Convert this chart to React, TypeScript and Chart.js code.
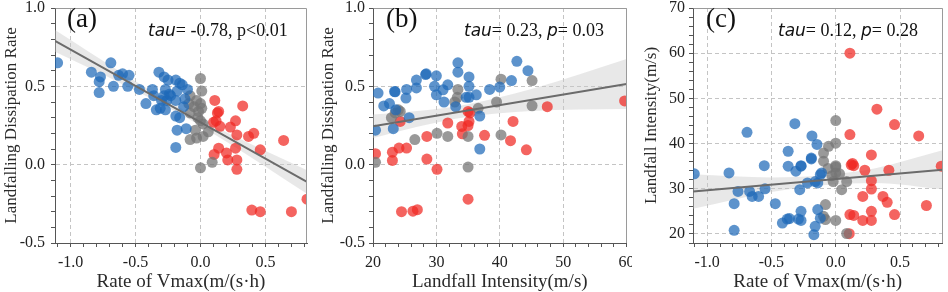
import React, { useEffect, useRef } from 'react';
import { Chart, registerables } from 'chart.js';
Chart.register(...registerables);

// ---------- Panel (a): Rate of Vmax vs Landfalling Dissipation Rate ----------
const aBlue = [
  [-1.10, 0.65], [-0.84, 0.59], [-0.78, 0.46], [-0.77, 0.56], [-0.78, 0.53], [-0.69, 0.65],
  [-0.67, 0.50], [-0.63, 0.57], [-0.60, 0.58], [-0.55, 0.57], [-0.56, 0.50], [-0.47, 0.48],
  [-0.42, 0.39], [-0.37, 0.48], [-0.36, 0.44], [-0.34, 0.35], [-0.32, 0.59], [-0.28, 0.56],
  [-0.30, 0.41], [-0.27, 0.48], [-0.27, 0.35], [-0.24, 0.45], [-0.28, 0.44], [-0.25, 0.54],
  [-0.19, 0.54], [-0.16, 0.52], [-0.18, 0.47], [-0.23, 0.44], [-0.26, 0.41], [-0.19, 0.41],
  [-0.10, 0.48], [-0.19, 0.31], [-0.16, 0.30], [-0.18, 0.22], [-0.11, 0.23], [-0.19, 0.11],
  [-0.31, 0.36], [-0.14, 0.51], [-0.13, 0.37], [-0.12, 0.42],
];
const aGray = [
  [0.00, 0.55], [0.01, 0.47], [-0.08, 0.44], [-0.09, 0.39], [-0.03, 0.41], [0.00, 0.39],
  [-0.08, 0.33], [-0.015, 0.34], [0.00, 0.28], [0.02, 0.26], [-0.08, 0.16], [-0.03, 0.17],
  [0.02, 0.18], [0.06, 0.21], [0.00, -0.02], [0.09, 0.015], [-0.05, 0.37], [-0.04, 0.22],
  [0.01, 0.36], [-0.02, 0.30],
];
const aRed = [
  [0.11, 0.41], [0.14, 0.34], [0.13, 0.33], [0.12, 0.28], [0.15, 0.245], [0.10, 0.27],
  [0.325, 0.375], [0.27, 0.28], [0.23, 0.24], [0.28, 0.19], [0.37, 0.18], [0.41, 0.20],
  [0.46, 0.095], [0.64, 0.155], [0.14, 0.105], [0.105, 0.065], [0.20, 0.075], [0.21, 0.03],
  [0.27, 0.105], [0.28, 0.03], [0.28, -0.03], [0.395, -0.29], [0.46, -0.30], [0.70, -0.30],
  [0.82, -0.22],
];
const aFitX = [-1.12, 0.82];
const aFitY = [0.79, -0.11];
const aBandX = [-1.12, -0.6, -0.2, 0.2, 0.82];
const aBandUpper = [0.86, 0.584, 0.383, 0.207, -0.035];
const aBandLower = [0.72, 0.514, 0.343, 0.147, -0.185];
const aXMajor = [-1.0, -0.5, 0.0, 0.5];
const aYMajor = [-0.5, 0.0, 0.5, 1.0];

// ---------- Panel (b): Landfall Intensity vs Landfalling Dissipation Rate ----------
const bBlue = [
  [20.8, 0.457], [20.4, 0.22], [21.7, 0.375], [22.6, 0.39], [23.4, 0.467], [23.6, 0.35],
  [23.2, 0.23], [25.3, 0.48], [25.2, 0.425], [25.7, 0.30], [26.85, 0.54], [26.85, 0.49],
  [28.4, 0.58], [30.0, 0.567], [29.7, 0.50], [30.0, 0.446], [31.05, 0.478], [31.2, 0.40],
  [31.8, 0.51], [33.4, 0.65], [33.4, 0.59], [33.05, 0.37], [35.15, 0.56], [35.15, 0.50],
  [35.15, 0.43], [34.7, 0.43], [36.3, 0.446], [36.85, 0.31], [36.85, 0.10], [38.4, 0.48],
  [40.0, 0.495], [41.85, 0.537], [42.7, 0.66], [44.45, 0.60], [28.3, 0.575], [23.5, 0.465],
];
const bGray = [
  [20.4, 0.015], [22.9, 0.30], [23.5, 0.33], [24.3, 0.34], [26.6, 0.16], [30.1, 0.20],
  [31.8, 0.18], [33.4, 0.48], [33.3, 0.43], [32.9, 0.40], [35.0, 0.18], [35.0, -0.015],
  [36.6, 0.36], [39.5, 0.40], [40.2, 0.546], [45.1, 0.537], [45.1, 0.376], [40.2, 0.19],
  [24.0, 0.35],
];
const bRed = [
  [20.4, 0.07], [23.06, 0.08], [23.06, 0.027], [24.1, 0.106], [25.3, 0.106], [24.3, 0.276],
  [28.5, 0.18], [28.5, 0.036], [30.1, -0.03], [31.8, 0.266], [34.0, 0.244], [34.1, 0.197],
  [35.15, 0.276], [35.0, 0.25], [35.0, 0.34], [37.6, 0.187], [24.5, -0.30], [26.3, -0.297],
  [27.0, -0.287], [35.0, -0.22], [47.5, 0.37], [42.1, 0.276], [41.7, 0.153], [44.2, 0.095],
  [59.7, 0.407], [35.3, 0.33],
];
const bFitX = [20, 60];
const bFitY = [0.245, 0.515];
const bBandX = [20, 27, 35, 45, 60];
const bBandUpper = [0.32, 0.342, 0.386, 0.483, 0.675];
const bBandLower = [0.17, 0.242, 0.306, 0.343, 0.355];
const bXMajor = [20, 30, 40, 50, 60];
const bYMajor = [-0.5, 0.0, 0.5, 1.0];

// ---------- Panel (c): Rate of Vmax vs Landfall Intensity ----------
const cBlue = [
  [-1.10, 33.3], [-0.83, 33.5], [-0.79, 26.7], [-0.79, 20.8], [-0.76, 29.4], [-0.69, 42.5],
  [-0.67, 29.4], [-0.65, 28.3], [-0.60, 28.3], [-0.556, 35.1], [-0.55, 30.0], [-0.47, 26.7],
  [-0.415, 22.4], [-0.377, 23.3], [-0.36, 23.4], [-0.37, 35.0], [-0.37, 38.3], [-0.318, 44.4],
  [-0.31, 33.9], [-0.27, 35.1], [-0.29, 23.3], [-0.27, 25.0], [-0.27, 23.0], [-0.28, 29.8],
  [-0.22, 31.3], [-0.19, 36.6], [-0.185, 41.7], [-0.16, 31.6], [-0.146, 39.8], [-0.16, 21.7],
  [-0.17, 19.85], [-0.14, 25.4], [-0.12, 33.1], [-0.12, 23.5], [-0.14, 31.3], [-0.27, 35.0],
  [-0.11, 33.5], [-0.19, 36.8],
];
const cGray = [
  [0.0, 45.1], [0.0, 40.1], [-0.056, 39.4], [-0.095, 37.9], [-0.095, 36.1], [0.0, 35.1],
  [0.0, 33.5], [-0.03, 32.9], [0.03, 33.3], [-0.02, 31.6], [0.085, 31.6], [0.046, 29.8],
  [-0.08, 26.5], [-0.095, 23.9], [-0.08, 23.2], [0.0, 23.0], [0.085, 20.1], [-0.06, 34.5],
  [0.0, 34.8],
];
const cRed = [
  [0.11, 60.0], [0.32, 47.6], [0.457, 44.2], [0.645, 41.7], [0.11, 42.0], [0.277, 37.5],
  [0.13, 35.6], [0.14, 35.1], [0.226, 34.1], [0.413, 34.1], [0.277, 31.8], [0.277, 29.95],
  [0.21, 28.3], [0.367, 28.3], [0.40, 27.0], [0.457, 24.3], [0.705, 26.3], [0.277, 25.0],
  [0.11, 24.3], [0.14, 24.1], [0.21, 23.0], [0.277, 23.0], [0.105, 20.07], [0.82, 35.0],
  [0.12, 35.3],
];
const cFitX = [-1.11, 0.83];
const cFitY = [29.4, 34.2];
const cBandX = [-1.11, -0.5, -0.1, 0.3, 0.83];
const cBandUpper = [33.2, 32.5, 33.0, 34.5, 38.5];
const cBandLower = [25.6, 29.3, 30.8, 31.3, 29.9];
const cXMajor = [-1.0, -0.5, 0.0, 0.5];
const cYMajor = [20, 30, 40, 50, 60, 70];

const SERIF = "'Liberation Serif', 'Times New Roman', serif";
const SANS = "'DejaVu Sans', Verdana, sans-serif";
const BLUE = 'rgba(30,105,185,0.72)';
const GRAY = 'rgba(118,118,118,0.74)';
const RED = 'rgba(240,40,35,0.72)';
const GRID = '#c4c4c4';

function steps(lo: number, hi: number, step: number): number[] {
  const out: number[] = [];
  const n = Math.round((hi - lo) / step);
  for (let i = 0; i <= n; i++) out.push(Math.round((lo + i * step) * 1000) / 1000);
  return out;
}

type Seg = { t: string; it?: boolean };

interface PanelProps {
  left: number;
  blue: number[][]; gray: number[][]; red: number[][];
  fitX: number[]; fitY: number[];
  bandX: number[]; bandUpper: number[]; bandLower: number[];
  xMin: number; xMax: number; yMin: number; yMax: number;
  xMinor: number[]; yMinor: number[]; xMajor: number[]; yMajor: number[];
  xDec: number; yDec: number;
  xTitle: string; yTitle: string;
  label: string; labelX: number; stat: Seg[]; statX: number;
  yWidth: number; yTitlePad: number; yTickPad: number; padRight: number;
}

const W = 316;
const H = 292;

function isIn(v: number, arr: number[]) {
  return arr.some((m) => Math.abs(m - v) < 1e-6);
}

function Panel(p: PanelProps) {
  const ref = useRef<HTMLCanvasElement>(null);
  useEffect(() => {
    const toXY = (arr: number[][]) => arr.map(([x, y]) => ({ x, y }));
    const pts = (arr: number[][], color: string) => ({
      data: toXY(arr),
      backgroundColor: color,
      borderWidth: 0,
      pointRadius: 5.5,
      pointHoverRadius: 5.5,
      showLine: false,
      order: 2,
      clip: 0,
    });
    const fmt = (major: number[], dec: number) => (v: any) => {
      const n = Number(v);
      if (!isIn(n, major)) return '';
      const r = Math.abs(n) < 1e-9 ? 0 : n;
      return r.toFixed(dec);
    };
    const annot = {
      id: 'annot',
      afterDatasetsDraw(chart: any) {
        const { ctx, chartArea: a } = chart;
        ctx.save();
        ctx.strokeStyle = '#9a9a9a';
        ctx.lineWidth = 1;
        ctx.beginPath();
        ctx.moveTo(Math.round(a.left) + 0.5, Math.round(a.top) + 0.5);
        ctx.lineTo(Math.round(a.right) - 0.5, Math.round(a.top) + 0.5);
        ctx.lineTo(Math.round(a.right) - 0.5, Math.round(a.bottom));
        ctx.stroke();
        ctx.restore();
      },
      afterDraw(chart: any) {
        const { ctx } = chart;
        ctx.save();
        ctx.fillStyle = '#111';
        ctx.textBaseline = 'alphabetic';
        ctx.textAlign = 'left';
        ctx.font = `27px ${SERIF}`;
        ctx.fillText(p.label, p.labelX, 27);
        let x = p.statX;
        for (const s of p.stat) {
          ctx.font = s.it ? `italic 17px ${SANS}` : `18px ${SERIF}`;
          ctx.fillText(s.t, x, 36);
          x += ctx.measureText(s.t).width;
        }
        ctx.restore();
      },
    };
    const chart = new Chart(ref.current as HTMLCanvasElement, {
      type: 'scatter',
      data: {
        datasets: [
          {
            data: p.bandX.map((x, i) => ({ x, y: p.bandUpper[i] })),
            showLine: true, borderWidth: 0, borderColor: 'rgba(0,0,0,0)', pointRadius: 0,
            cubicInterpolationMode: 'monotone', fill: false, order: 3,
          } as any,
          {
            data: p.bandX.map((x, i) => ({ x, y: p.bandLower[i] })),
            showLine: true, borderWidth: 0, borderColor: 'rgba(0,0,0,0)', pointRadius: 0,
            cubicInterpolationMode: 'monotone', fill: '-1',
            backgroundColor: 'rgba(200,200,200,0.42)', order: 3,
          } as any,
          pts(p.blue, BLUE) as any,
          pts(p.gray, GRAY) as any,
          pts(p.red, RED) as any,
          {
            data: p.fitX.map((x, i) => ({ x, y: p.fitY[i] })),
            showLine: true, borderColor: '#6b6b6b', borderWidth: 2, pointRadius: 0, order: 1,
          } as any,
        ],
      },
      options: {
        animation: false,
        responsive: false,
        events: [],
        layout: { padding: { left: 0, right: p.padRight, top: 8, bottom: 0 } },
        plugins: { legend: { display: false }, tooltip: { enabled: false } },
        scales: {
          x: {
            type: 'linear',
            min: p.xMin, max: p.xMax, bounds: 'data',
            afterBuildTicks: (s: any) => { s.ticks = p.xMinor.map((v) => ({ value: v })); },
            afterFit: (s: any) => { s.height = 49; s.paddingLeft = 0; s.paddingRight = 0; },
            ticks: {
              callback: fmt(p.xMajor, p.xDec), autoSkip: false, maxRotation: 0, minRotation: 0,
              padding: 6, color: '#222', font: { family: SERIF, size: 16 },
            },
            grid: {
              color: (c: any) => (c.tick && isIn(c.tick.value, p.xMajor) ? GRID : 'rgba(0,0,0,0)'),
              tickColor: '#555', tickLength: 4, lineWidth: 1,
            },
            border: { color: '#555', width: 1, dash: [4, 3] },
            title: {
              display: true, text: p.xTitle, color: '#2a2a2a',
              font: { family: SERIF, size: 19, lineHeight: 1.0 }, padding: { top: 0, bottom: 0 },
            },
          } as any,
          y: {
            type: 'linear',
            min: p.yMin, max: p.yMax, bounds: 'data',
            afterBuildTicks: (s: any) => { s.ticks = p.yMinor.map((v) => ({ value: v })); },
            afterFit: (s: any) => { s.width = p.yWidth; s.paddingTop = 0; s.paddingBottom = 0; },
            ticks: {
              callback: fmt(p.yMajor, p.yDec), autoSkip: false,
              padding: p.yTickPad, color: '#222', font: { family: SERIF, size: 16 },
            },
            grid: {
              color: (c: any) => (c.tick && isIn(c.tick.value, p.yMajor) ? GRID : 'rgba(0,0,0,0)'),
              tickColor: '#555', tickLength: 4, lineWidth: 1,
            },
            border: { color: '#555', width: 1, dash: [4, 3] },
            title: {
              display: true, text: p.yTitle, color: '#2a2a2a',
              font: { family: SERIF, size: 17, lineHeight: 1.2 }, padding: { top: p.yTitlePad, bottom: 0 },
            },
          } as any,
        },
      },
      plugins: [annot],
    } as any);
    return () => chart.destroy();
  }, []);
  return (
    <canvas
      ref={ref}
      width={W}
      height={H}
      style={{ position: 'absolute', left: p.left, top: 0, width: W, height: H }}
    />
  );
}

export default function App() {
  const statA: Seg[] = [{ t: 'tau', it: true }, { t: '= -0.78, p<0.01' }];
  const statB: Seg[] = [{ t: 'tau', it: true }, { t: '= 0.23, ' }, { t: 'p', it: true }, { t: '= 0.03' }];
  const statC: Seg[] = [{ t: 'tau', it: true }, { t: '= 0.12, ' }, { t: 'p', it: true }, { t: '= 0.28' }];
  return (
    <div style={{ position: 'fixed', left: 0, top: 0, width: 948, height: 292, background: '#fff', overflow: 'hidden' }}>
      <Panel
        left={0}
        blue={aBlue} gray={aGray} red={aRed}
        fitX={aFitX} fitY={aFitY} bandX={aBandX} bandUpper={aBandUpper} bandLower={aBandLower}
        xMin={-1.12} xMax={0.82} yMin={-0.5} yMax={1.0}
        xMinor={steps(-1.1, 0.8, 0.1)} yMinor={steps(-0.5, 1.0, 0.1)}
        xMajor={aXMajor} yMajor={aYMajor} xDec={1} yDec={1}
        xTitle="Rate of Vmax(m/(s·h)" yTitle="Landfalling Dissipation Rate"
        label="(a)" labelX={67} stat={statA} statX={148}
        yWidth={55} yTitlePad={1} yTickPad={6} padRight={9}
      />
      <Panel
        left={316}
        blue={bBlue} gray={bGray} red={bRed}
        fitX={bFitX} fitY={bFitY} bandX={bBandX} bandUpper={bBandUpper} bandLower={bBandLower}
        xMin={20} xMax={60} yMin={-0.5} yMax={1.0}
        xMinor={steps(20, 60, 2)} yMinor={steps(-0.5, 1.0, 0.1)}
        xMajor={bXMajor} yMajor={bYMajor} xDec={0} yDec={1}
        xTitle="Landfall Intensity(m/s)" yTitle="Landfalling Dissipation Rate"
        label="(b)" labelX={70} stat={statB} statX={148}
        yWidth={57} yTitlePad={2} yTickPad={4} padRight={5}
      />
      <Panel
        left={632}
        blue={cBlue} gray={cGray} red={cRed}
        fitX={cFitX} fitY={cFitY} bandX={cBandX} bandUpper={cBandUpper} bandLower={cBandLower}
        xMin={-1.11} xMax={0.83} yMin={18} yMax={70}
        xMinor={steps(-1.1, 0.8, 0.1)} yMinor={steps(18, 70, 2)}
        xMajor={cXMajor} yMajor={cYMajor} xDec={1} yDec={0}
        xTitle="Rate of Vmax(m/(s·h)" yTitle="Landfall Intensity(m/s)"
        label="(c)" labelX={74} stat={statC} statX={146}
        yWidth={61} yTitlePad={9} yTickPad={4} padRight={3}
      />
    </div>
  );
}
